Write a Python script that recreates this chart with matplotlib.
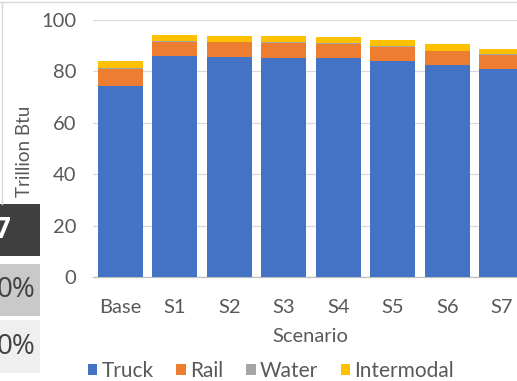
import matplotlib
matplotlib.use("Agg")
import matplotlib.pyplot as plt
from matplotlib.patches import Rectangle, Patch
from matplotlib.lines import Line2D
import numpy as np

plt.rcParams['font.family'] = ['Lato', 'DejaVu Sans']

scenarios = ["Base", "S1", "S2", "S3", "S4", "S5", "S6", "S7"]
truck = [74.4, 85.8, 85.6, 85.4, 85.3, 84.0, 82.4, 81.0]
rail = [6.6, 5.8, 5.7, 5.7, 5.4, 5.6, 5.4, 5.5]
water = [0.3, 0.3, 0.3, 0.3, 0.3, 0.3, 0.3, 0.3]
intermodal = [2.6, 2.3, 2.3, 2.4, 2.4, 2.3, 2.5, 2.1]
y_ticks = [0, 20, 40, 60, 80, 100]

series = [("Truck", truck, "#4472C4"),
          ("Rail", rail, "#ED7D31"),
          ("Water", water, "#A5A5A5"),
          ("Intermodal", intermodal, "#FFC000")]

W, H = 517, 381
fig = plt.figure(figsize=(W / 100, H / 100), dpi=100)
fig.patch.set_facecolor("white")

def px(x, y):
    return x / W, 1 - y / H

# plot area (extends past the right edge of the canvas)
left, top, bottom = 93, 20, 277
cat_w = 54.5
ax = fig.add_axes([left / W, 1 - bottom / H, 8 * cat_w / W, (bottom - top) / H])

x = np.arange(len(scenarios))
base = np.zeros(len(scenarios))
for name, vals, color in series:
    ax.bar(x, vals, width=0.83, bottom=base, color=color, label=name, zorder=3)
    base += np.array(vals)

ax.set_xlim(-0.5, 7.5)
ax.set_ylim(0, 100)
ax.set_yticks(y_ticks)
ax.set_xticks(x)
ax.set_xticklabels(scenarios)
ax.grid(axis="y", color="#d9d9d9", linewidth=0.9, zorder=0)
for s in ["top", "right", "left"]:
    ax.spines[s].set_visible(False)
ax.spines["bottom"].set_color("#bfbfbf")
ax.spines["bottom"].set_linewidth(0.9)
ax.tick_params(axis="y", length=0, pad=12, labelsize=14.5, labelcolor="#595959")
ax.tick_params(axis="x", length=0, pad=16, labelsize=14.5, labelcolor="#595959")

fig.text(*px(310, 337), "Scenario", ha="center", va="center", fontsize=14.5, color="#595959")
fig.text(*px(25, 151), "Trillion Btu", ha="center", va="center", rotation=90,
         fontsize=13.5, color="#595959")

handles = [Patch(facecolor=c, label=n) for n, _, c in series]
fig.legend(handles=handles, loc="center", bbox_to_anchor=px(271, 371), ncol=4,
           frameon=False, fontsize=15, labelcolor="#595959",
           handlelength=0.45, handleheight=0.45, handletextpad=0.2, columnspacing=1.1,
           borderpad=0.1)

# chart border
fig.add_artist(Line2D([0, 1], [1 - 2 / H, 1 - 2 / H], transform=fig.transFigure,
                      color="#d9d9d9", linewidth=1))
fig.add_artist(Line2D([1.5 / W, 1.5 / W], [1 - 2 / H, 1 - 204 / H], transform=fig.transFigure,
                      color="#d9d9d9", linewidth=1))

# neighbouring table cells
cells = [(204, 256, "#404040", "7", "white", "bold", 10),
         (264, 316, "#c9c9c9", "0%", "#404040", "normal", 35),
         (320, 373, "#efefef", "0%", "#404040", "normal", 35)]
for y0, y1, fc, txt, tc, fw, tx in cells:
    fig.add_artist(Rectangle(px(0, y1), 40 / W, (y1 - y0) / H, transform=fig.transFigure,
                             facecolor=fc, edgecolor="none"))
    fig.text(*px(tx, (y0 + y1) / 2), txt, ha="right", va="center", fontsize=20,
             color=tc, fontweight=fw, family=["Open Sans", "DejaVu Sans"])

fig.savefig("out.png", dpi=100)
